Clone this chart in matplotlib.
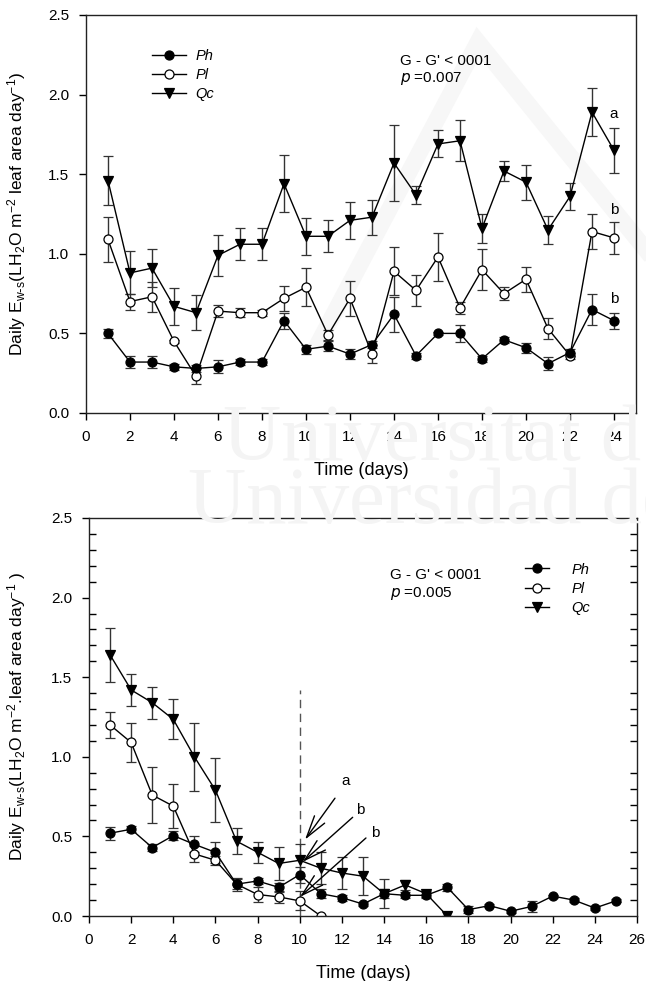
import numpy as np
import matplotlib.pyplot as plt
from matplotlib.lines import Line2D
from matplotlib.ticker import MultipleLocator, FormatStrFormatter

plt.rcParams['font.family'] = ['Liberation Sans', 'DejaVu Sans']
plt.rcParams['mathtext.default'] = 'regular'

# --- top panel data (days 1-24)
days_top = list(range(1, 25))
ph_top = [0.50, 0.32, 0.32, 0.29, 0.28, 0.29, 0.32, 0.32, 0.58, 0.40, 0.42, 0.37,
          0.43, 0.62, 0.36, 0.50, 0.50, 0.34, 0.46, 0.41, 0.31, 0.38, 0.65, 0.58]
ph_top_err = [0.03, 0.04, 0.04, 0.02, 0.02, 0.04, 0.02, 0.02, 0.05, 0.03, 0.03, 0.03,
              0.02, 0.11, 0.02, 0.01, 0.055, 0.02, 0.02, 0.03, 0.04, 0.02, 0.10, 0.05]
pl_top = [1.09, 0.70, 0.73, 0.45, 0.23, 0.64, 0.63, 0.63, 0.72, 0.79, 0.49, 0.72,
          0.37, 0.89, 0.77, 0.98, 0.66, 0.90, 0.75, 0.84, 0.53, 0.36, 1.14, 1.10]
pl_top_err = [0.14, 0.05, 0.095, 0.01, 0.05, 0.04, 0.03, 0.02, 0.08, 0.12, 0.03, 0.11,
              0.055, 0.15, 0.095, 0.15, 0.04, 0.13, 0.04, 0.08, 0.065, 0.02, 0.11, 0.10]
qc_top = [1.46, 0.88, 0.91, 0.67, 0.63, 0.99, 1.06, 1.06, 1.44, 1.11, 1.11, 1.21,
          1.23, 1.57, 1.37, 1.69, 1.71, 1.16, 1.52, 1.45, 1.15, 1.36, 1.89, 1.65]
qc_top_err = [0.155, 0.135, 0.12, 0.115, 0.11, 0.13, 0.10, 0.10, 0.18, 0.115, 0.10, 0.115,
              0.11, 0.24, 0.055, 0.085, 0.13, 0.09, 0.06, 0.11, 0.09, 0.085, 0.15, 0.14]

# --- bottom panel data
days_ph_bot = list(range(1, 26))
ph_bot = [0.52, 0.545, 0.43, 0.505, 0.45, 0.40, 0.20, 0.22, 0.18, 0.26, 0.14, 0.115, 0.075,
          0.14, 0.13, 0.13, 0.18, 0.04, 0.065, 0.03, 0.06, 0.125, 0.10, 0.05, 0.095]
ph_bot_err = [0.04, 0.02, 0.02, 0.03, 0.05, 0.065, 0.03, 0.02, 0.03, 0.05, 0.03, 0.02, 0.01,
              0.03, 0.02, 0.02, 0.02, 0.02, 0.01, 0.01, 0.035, 0.01, 0.01, 0.01, 0.01]
days_pl_bot = list(range(1, 12))
pl_bot = [1.20, 1.09, 0.76, 0.69, 0.39, 0.35, 0.20, 0.135, 0.12, 0.095, 0.0]
pl_bot_err = [0.08, 0.12, 0.175, 0.14, 0.05, 0.03, 0.04, 0.05, 0.04, 0.06, 0.0]
days_qc_bot = list(range(1, 18))
qc_bot = [1.64, 1.42, 1.34, 1.235, 1.00, 0.79, 0.47, 0.40, 0.33, 0.35, 0.30, 0.27, 0.25,
          0.14, 0.195, 0.14, 0.0]
qc_bot_err = [0.17, 0.10, 0.10, 0.125, 0.215, 0.20, 0.08, 0.065, 0.105, 0.10, 0.10, 0.10, 0.12,
              0.09, 0.03, 0.02, 0.0]

labels = ['Ph', 'Pl', 'Qc']

fig = plt.figure(figsize=(6.46, 9.81), dpi=100)

# faint watermark (roof outline and text)
W, H = 646, 981
fig.add_artist(Line2D([320 / W, 478 / W, 646 / W], [1 - 340 / H, 1 - 42 / H, 1 - 250 / H],
                      lw=12, color='#f7f7f7', zorder=0, solid_joinstyle='miter'))
fig.text(223 / W, 1 - 460 / H, 'Universitat d', family='Liberation Serif', fontsize=58,
         color='#f4f4f4', zorder=0)
fig.text(188 / W, 1 - 523 / H, 'Universidad de', family='Liberation Serif', fontsize=58,
         color='#f4f4f4', zorder=0)

ax1 = fig.add_axes([86 / W, 1 - 413 / H, 550 / W, 398 / H])
ax2 = fig.add_axes([89 / W, 1 - 916 / H, 548 / W, 398 / H])


def draw_series(ax, x, y, e, marker, face, ms):
    c = ax.errorbar(x, y, yerr=e, color='black', ecolor='#333333', elinewidth=1, capsize=3.6,
                    capthick=1, lw=1, marker=marker, mfc=face, mec='black', mew=0.9, ms=ms)
    return c[0]


def style_axis(ax, xmax):
    ax.set_facecolor('none')
    ax.set_xlim(0, xmax)
    ax.set_ylim(0, 2.5)
    ax.xaxis.set_major_locator(MultipleLocator(2))
    ax.yaxis.set_major_locator(MultipleLocator(0.5))
    ax.yaxis.set_major_formatter(FormatStrFormatter('%.1f'))
    ax.tick_params(which='major', direction='out', length=5, width=1, labelsize=11,
                   top=False, right=False, pad=7)
    for s in ax.spines.values():
        s.set_linewidth(1)
        s.set_color('#222222')
    ax.set_xlabel('Time (days)', fontsize=13, labelpad=13)


def add_legend(ax, handles, anchor, hl, tp):
    leg = ax.legend(handles, labels, loc='upper left', bbox_to_anchor=anchor,
                    frameon=False, fontsize=10.5, handlelength=hl, handletextpad=tp,
                    labelspacing=0.35, borderpad=0, borderaxespad=0)
    for t in leg.get_texts():
        t.set_style('italic')


# ---- top panel
q1 = draw_series(ax1, days_top, qc_top, qc_top_err, 'v', 'black', 7.5)
p1 = draw_series(ax1, days_top, pl_top, pl_top_err, 'o', 'white', 6.5)
h1 = draw_series(ax1, days_top, ph_top, ph_top_err, 'o', 'black', 6.5)
style_axis(ax1, 25)
ax1.set_ylabel('Daily E$_{w\\text{-}s}$(LH$_2$O m$^{-2}$ leaf area day$^{-1}$)', fontsize=12.5)
ax1.yaxis.set_label_coords(-0.105, 0.5)
add_legend(ax1, [h1, p1, q1], (0.12, 0.915), 2.3, 0.7)
ax1.text(14.27, 2.21, "G - G' < 0001", fontsize=11, va='center')
ax1.text(14.27, 2.10, "$\\mathit{p}$ =0.007", fontsize=11, va='center')
ax1.text(24.0, 1.88, 'a', fontsize=11, ha='center', va='center')
ax1.text(24.0, 1.275, 'b', fontsize=11, ha='center', va='center')
ax1.text(24.0, 0.716, 'b', fontsize=11, ha='center', va='center')

# ---- bottom panel
ax2.plot([10, 10], [0, 1.42], ls=(0, (6, 4)), color='#555555', lw=1)
q2 = draw_series(ax2, days_qc_bot, qc_bot, qc_bot_err, 'v', 'black', 7.5)
p2 = draw_series(ax2, days_pl_bot, pl_bot, pl_bot_err, 'o', 'white', 6.5)
h2 = draw_series(ax2, days_ph_bot, ph_bot, ph_bot_err, 'o', 'black', 6.5)
style_axis(ax2, 26)
ax2.yaxis.set_minor_locator(MultipleLocator(0.1))
ax2.tick_params(which='minor', direction='in', length=5, width=1, left=True, right=True,
                bottom=False)
ax2.set_ylabel('Daily E$_{w\\text{-}s}$(LH$_2$O m$^{-2}$.leaf area day$^{-1}$ )', fontsize=12.5)
ax2.yaxis.set_label_coords(-0.111, 0.5)
add_legend(ax2, [h2, p2, q2], (0.795, 0.888), 1.7, 1.5)
ax2.text(14.28, 2.14, "G - G' < 0001", fontsize=11, va='center')
ax2.text(14.28, 2.025, "$\\mathit{p}$ =0.005", fontsize=11, va='center')

arrow = dict(arrowstyle='->,head_length=1.6,head_width=0.45', color='black', lw=1,
             shrinkA=0, shrinkB=0)
ax2.annotate('', xy=(10.25, 0.48), xytext=(11.67, 0.74), arrowprops=arrow)
ax2.annotate('', xy=(10.14, 0.34), xytext=(12.51, 0.62), arrowprops=arrow)
ax2.annotate('', xy=(10.01, 0.12), xytext=(13.14, 0.49), arrowprops=arrow)
ax2.text(12.18, 0.85, 'a', fontsize=11, ha='center', va='center')
ax2.text(12.89, 0.666, 'b', fontsize=11, ha='center', va='center')
ax2.text(13.57, 0.52, 'b', fontsize=11, ha='center', va='center')

fig.savefig('out.png', dpi=100)
